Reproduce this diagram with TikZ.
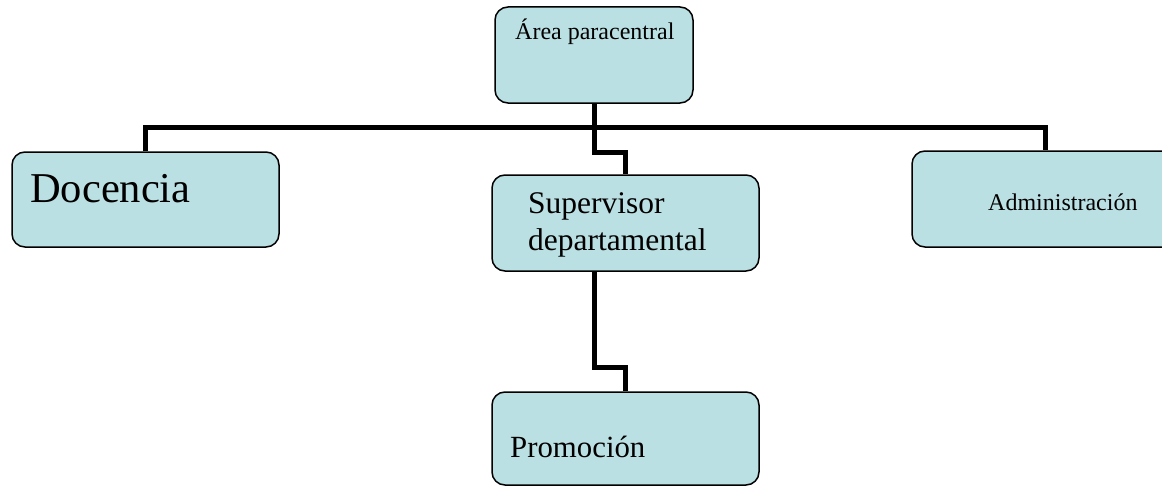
\documentclass[tikz,border=0pt]{standalone}
\usepackage{fontspec}
\setmainfont{Liberation Serif}
\definecolor{boxfill}{RGB}{187,224,227}
\begin{document}
\begin{tikzpicture}[x=1pt,y=-1pt,
  orgbox/.style={draw=black, line width=1.5pt, fill=boxfill, rounded corners=13pt,
    rectangle, inner sep=0pt, minimum width=267pt, minimum height=96pt},
  conn/.style={draw=black, line width=5pt, miter limit=10},
  lbl/.style={anchor=base west, inner sep=0pt, text=black}]
\useasboundingbox (0,0) rectangle (1162,487);
\clip (0,0) rectangle (1162,487);
% boxes
\node[orgbox, minimum width=198pt] (top) at (594,55) {};
\node[orgbox, minimum height=95pt] (doc) at (145.5,199.5) {};
\node[orgbox] (sup) at (625.5,223) {};
\node[orgbox] (adm) at (1045.5,199) {};
\node[orgbox, minimum height=93pt] (pro) at (625.5,438.5) {};
% connectors
\coordinate (bus) at (594,127);
\draw[conn] (top.south) -- (bus);
\draw[conn] (doc.north) -- (doc.north |- bus) -- (adm.north |- bus) -- (adm.north);
\draw[conn] (bus) -- ++(0,25) -| (sup.north);
\draw[conn] (sup.south -| bus) -- ++(0,96) -| (pro.north);
% texts
\node[lbl, font=\fontsize{24}{29}\selectfont] (tTop) at (515,40) {Área paracentral};
\node[lbl, font=\fontsize{42.5}{51}\selectfont] (tDoc) at (30,202) {Docencia};
\node[lbl, font=\fontsize{31.5}{37}\selectfont] (tSup1) at (528,213) {Supervisor};
\node[lbl, font=\fontsize{31.5}{37}\selectfont] (tSup2) at (528,250) {departamental};
\node[lbl, font=\fontsize{24}{29}\selectfont] (tAdm) at (988,210) {Administración};
\node[lbl, font=\fontsize{30.8}{37}\selectfont] (tPro) at (510,457) {Promoción};
\end{tikzpicture}
\end{document}
